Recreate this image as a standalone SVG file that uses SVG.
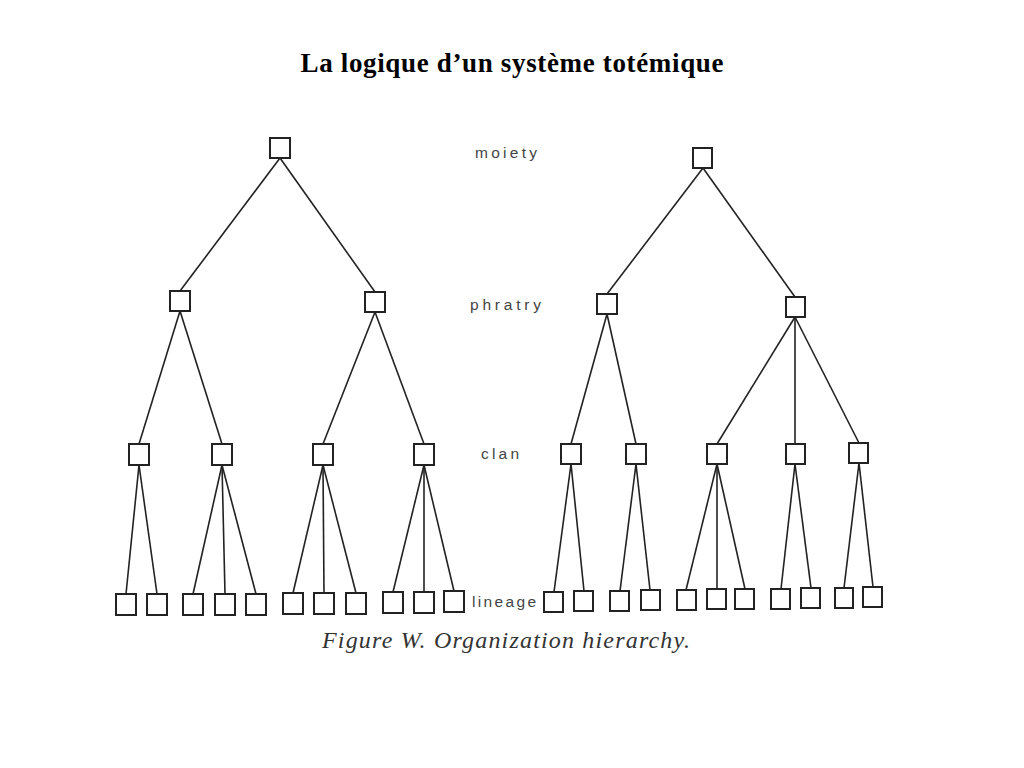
<svg xmlns="http://www.w3.org/2000/svg" width="1024" height="768" viewBox="0 0 1024 768">
<style>
.n rect{fill:#fff;stroke:#222;stroke-width:2}
.c line{stroke:#222;stroke-width:1.6}
.lvl{font-family:"Liberation Sans",Arial,sans-serif;font-size:15.5px;fill:#444}
.title{font-family:"Liberation Serif","Times New Roman",serif;font-weight:bold;font-size:27px;fill:#000}
.cap{font-family:"Liberation Serif","Times New Roman",serif;font-style:italic;font-size:24px;fill:#333}
</style>
<rect width="1024" height="768" fill="#fff"/>
<text class="title" x="512" y="72" text-anchor="middle" textLength="423">La logique d’un système totémique</text>
<g id="connectors" class="c">
<line x1="280" y1="158" x2="180" y2="291"/>
<line x1="280" y1="158" x2="375" y2="292"/>
<line x1="180" y1="311" x2="139" y2="444"/>
<line x1="180" y1="311" x2="222" y2="444"/>
<line x1="375" y1="312" x2="323" y2="444"/>
<line x1="375" y1="312" x2="424" y2="444"/>
<line x1="139" y1="465" x2="126" y2="594"/>
<line x1="139" y1="465" x2="157" y2="594"/>
<line x1="222" y1="465" x2="193" y2="594"/>
<line x1="222" y1="465" x2="225" y2="594"/>
<line x1="222" y1="465" x2="256" y2="594"/>
<line x1="323" y1="465" x2="293" y2="593"/>
<line x1="323" y1="465" x2="324" y2="593"/>
<line x1="323" y1="465" x2="356" y2="593"/>
<line x1="424" y1="465" x2="393" y2="592"/>
<line x1="424" y1="465" x2="424" y2="592"/>
<line x1="424" y1="465" x2="454" y2="591"/>
<line x1="703" y1="168" x2="607" y2="294"/>
<line x1="703" y1="168" x2="795" y2="297"/>
<line x1="607" y1="314" x2="571" y2="444"/>
<line x1="607" y1="314" x2="636" y2="444"/>
<line x1="795" y1="317" x2="717" y2="444"/>
<line x1="795" y1="317" x2="795" y2="444"/>
<line x1="795" y1="317" x2="859" y2="443"/>
<line x1="571" y1="464" x2="554" y2="592"/>
<line x1="571" y1="464" x2="584" y2="591"/>
<line x1="636" y1="464" x2="620" y2="591"/>
<line x1="636" y1="464" x2="650" y2="590"/>
<line x1="717" y1="464" x2="686" y2="590"/>
<line x1="717" y1="464" x2="717" y2="589"/>
<line x1="717" y1="464" x2="745" y2="589"/>
<line x1="795" y1="464" x2="781" y2="589"/>
<line x1="795" y1="464" x2="811" y2="588"/>
<line x1="859" y1="463" x2="844" y2="588"/>
<line x1="859" y1="463" x2="873" y2="587"/>
</g>
<g id="L-moiety" class="n"><rect x="270" y="138" width="20" height="20"/></g>
<g id="L-phratry1" class="n"><rect x="170" y="291" width="20" height="20"/></g>
<g id="L-phratry2" class="n"><rect x="365" y="292" width="20" height="20"/></g>
<g id="L-clan1" class="n"><rect x="129" y="444" width="20" height="21"/></g>
<g id="L-clan2" class="n"><rect x="212" y="444" width="20" height="21"/></g>
<g id="L-clan3" class="n"><rect x="313" y="444" width="20" height="21"/></g>
<g id="L-clan4" class="n"><rect x="414" y="444" width="20" height="21"/></g>
<g id="L-lin1" class="n"><rect x="116" y="594" width="20" height="21"/></g>
<g id="L-lin2" class="n"><rect x="147" y="594" width="20" height="21"/></g>
<g id="L-lin3" class="n"><rect x="183" y="594" width="20" height="21"/></g>
<g id="L-lin4" class="n"><rect x="215" y="594" width="20" height="21"/></g>
<g id="L-lin5" class="n"><rect x="246" y="594" width="20" height="21"/></g>
<g id="L-lin6" class="n"><rect x="283" y="593" width="20" height="21"/></g>
<g id="L-lin7" class="n"><rect x="314" y="593" width="20" height="21"/></g>
<g id="L-lin8" class="n"><rect x="346" y="593" width="20" height="21"/></g>
<g id="L-lin9" class="n"><rect x="383" y="592" width="20" height="21"/></g>
<g id="L-lin10" class="n"><rect x="414" y="592" width="20" height="21"/></g>
<g id="L-lin11" class="n"><rect x="444" y="591" width="20" height="21"/></g>
<g id="R-moiety" class="n"><rect x="693" y="148" width="19" height="20"/></g>
<g id="R-phratry1" class="n"><rect x="597" y="294" width="20" height="20"/></g>
<g id="R-phratry2" class="n"><rect x="786" y="297" width="19" height="20"/></g>
<g id="R-clan1" class="n"><rect x="561" y="444" width="20" height="20"/></g>
<g id="R-clan2" class="n"><rect x="626" y="444" width="20" height="20"/></g>
<g id="R-clan3" class="n"><rect x="707" y="444" width="20" height="20"/></g>
<g id="R-clan4" class="n"><rect x="786" y="444" width="19" height="20"/></g>
<g id="R-clan5" class="n"><rect x="849" y="443" width="19" height="20"/></g>
<g id="R-lin1" class="n"><rect x="544" y="592" width="19" height="20"/></g>
<g id="R-lin2" class="n"><rect x="574" y="591" width="19" height="20"/></g>
<g id="R-lin3" class="n"><rect x="610" y="591" width="19" height="20"/></g>
<g id="R-lin4" class="n"><rect x="641" y="590" width="19" height="20"/></g>
<g id="R-lin5" class="n"><rect x="677" y="590" width="19" height="20"/></g>
<g id="R-lin6" class="n"><rect x="707" y="589" width="19" height="20"/></g>
<g id="R-lin7" class="n"><rect x="735" y="589" width="19" height="20"/></g>
<g id="R-lin8" class="n"><rect x="771" y="589" width="19" height="20"/></g>
<g id="R-lin9" class="n"><rect x="801" y="588" width="19" height="20"/></g>
<g id="R-lin10" class="n"><rect x="835" y="588" width="18" height="20"/></g>
<g id="R-lin11" class="n"><rect x="863" y="587" width="19" height="20"/></g>
<text class="lvl" x="475" y="158" textLength="62">moiety</text>
<text class="lvl" x="470" y="310" textLength="71">phratry</text>
<text class="lvl" x="481" y="459" textLength="38">clan</text>
<text class="lvl" x="472" y="607" textLength="64">lineage</text>
<text class="cap" x="322" y="648" textLength="368">Figure W. Organization hierarchy.</text>
</svg>
